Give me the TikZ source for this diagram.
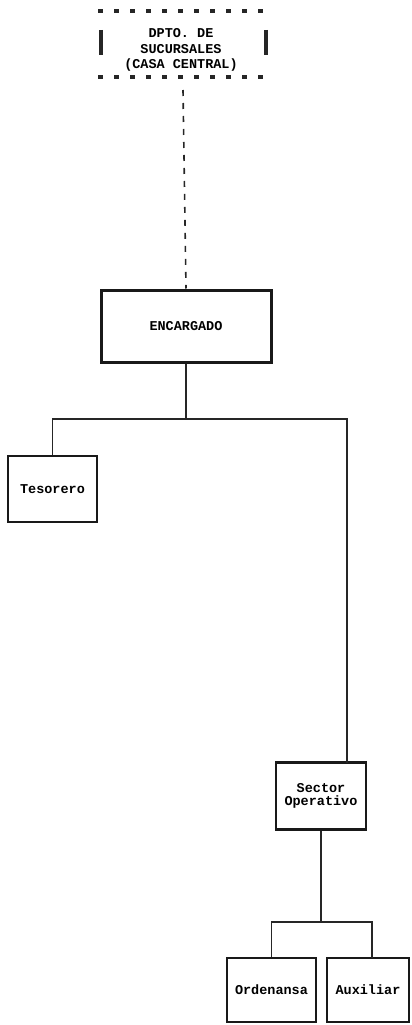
\documentclass[tikz,border=0pt]{standalone}
\usepackage{fontspec}
\setmonofont{Liberation Mono}
\begin{document}
\begin{tikzpicture}[x=1pt,y=1pt,
  orgbox/.style={draw=black!90,line width=2.6pt,fill=white,inner sep=0pt,font=\ttfamily\bfseries\fontsize{13.5}{13}\selectfont,align=center},
  conn/.style={draw=black!85,line width=1.4pt}]
\useasboundingbox (0,0) rectangle (412,-1025);
% top dashed box
\node[font=\ttfamily\bfseries\fontsize{13.5}{15.5}\selectfont,align=center,inner sep=0pt] (dpto) at (181,-50) {DPTO. DE\\SUCURSALES\\(CASA CENTRAL)};
\coordinate (dtop) at (183,-90);
\draw[line width=4.5pt,dash pattern=on 4.5pt off 11.5pt,black!85] (98,-11) -- (270,-11);
\draw[line width=4.5pt,dash pattern=on 4.5pt off 11.5pt,black!85] (98,-77) -- (270,-77);
\draw[line width=4pt,black!85] (101,-30) -- (101,-55);
\draw[line width=4pt,black!85] (266,-30) -- (266,-55);
% nodes
\node[orgbox,minimum width=170,minimum height=72,line width=3pt] (enc) at (186,-326) {ENCARGADO};
\node[orgbox,minimum width=89,minimum height=66] (tes) at (52.5,-489) {Tesorero};
\node[orgbox,minimum width=90,minimum height=67] (sec) at (321,-796) {Sector\\Operativo};
\node[orgbox,minimum width=89,minimum height=64] (ord) at (271.5,-990) {Ordenansa};
\node[orgbox,minimum width=82,minimum height=64] (aux) at (368,-990) {Auxiliar};
% connectors
\draw[line width=1.6pt,dash pattern=on 6pt off 7pt,black!85] (dtop) -- (enc.north);
\coordinate (j1) at (186,-419);
\draw[conn] (enc.south) -- (j1);
\draw[conn] (j1) -| (tes.north);
\draw[conn] (j1) -| (347,-419) -- (347,-762.5);
\coordinate (j2) at (321,-922);
\draw[conn] (sec.south) -- (j2);
\draw[conn] (j2) -| (ord.north);
\draw[conn] (j2) -| (372,-958);
\end{tikzpicture}
\end{document}
